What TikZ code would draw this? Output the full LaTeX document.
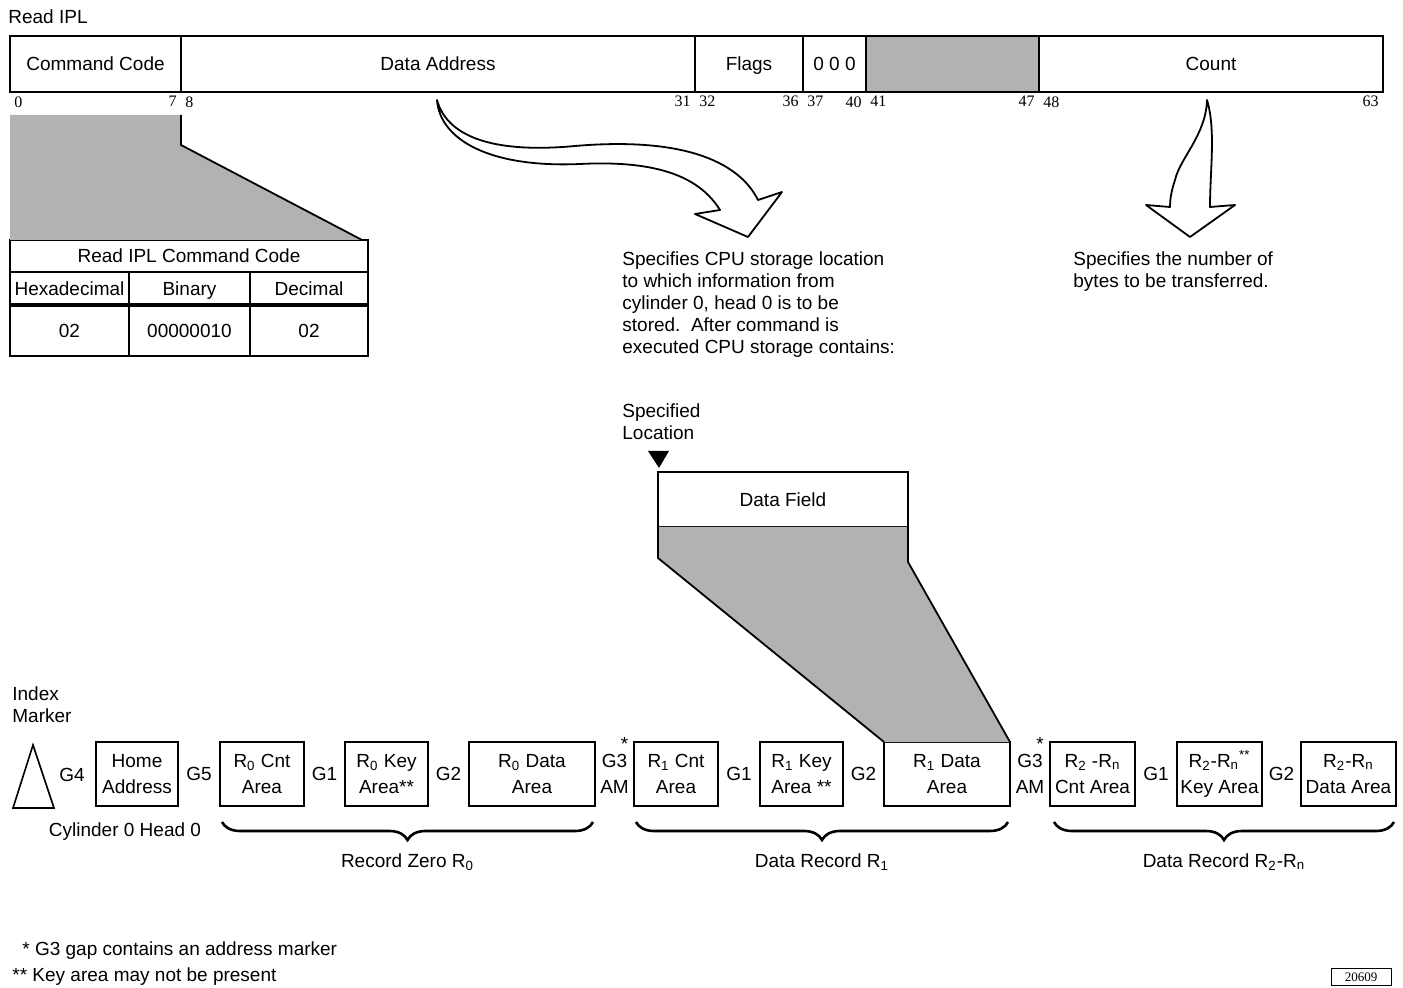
\documentclass[tikz,border=0pt]{standalone}
\usepackage{fontspec}
\setmainfont{Liberation Sans}
\newfontfamily\bitfont{Liberation Serif}
\usetikzlibrary{positioning, calc, decorations.pathreplacing}

\begin{document}
\begin{tikzpicture}[
  x=0.5pt, y=-0.5pt,
  font=\fontsize{9.5}{11}\selectfont,
  field/.style={draw, line width=1pt, minimum height=28pt, inner sep=0pt,
    outer sep=0pt, text height=1.6ex, text depth=0.3ex},
  shade/.style={fill=black!30},
  cell/.style={draw, line width=0.8pt, inner sep=0pt, outer sep=0pt,
    minimum height=16.5pt, text height=1.6ex, text depth=0.3ex},
  trk/.style={draw, line width=0.8pt, minimum height=32pt, inner sep=0pt,
    outer sep=0pt, align=center, anchor=north west,
    font=\fontsize{9.5}{13}\selectfont},
  gap/.style={inner sep=0pt, align=center, font=\fontsize{9.5}{13}\selectfont},
  bitno/.style={font=\bitfont\fontsize{8}{9}\selectfont, inner sep=2pt},
  txt/.style={align=left, inner sep=0pt, anchor=north west},
  hollow/.style={draw, line width=0.9pt, fill=white, line join=round},
  grp/.style={decorate, decoration={brace, mirror, amplitude=9pt},
    line width=1.3pt},
]
  \useasboundingbox (0,0) rectangle (1403,988);

  % -- CCW fields --
  \node[anchor=west, inner sep=0pt] (title) at (8,17) {Read IPL};
  \node[field, minimum width=85.5pt, anchor=north west] (cmd) at (10,36) {Command Code};
  \node[field, minimum width=257pt, right=0pt of cmd] (addr) {Data Address};
  \node[field, minimum width=54pt, right=0pt of addr] (flags) {Flags};
  \node[field, minimum width=31.5pt, right=0pt of flags] (zeros) {0 0 0};
  \node[field, shade, minimum width=86.5pt, right=0pt of zeros] (pad) {};
  \node[field, minimum width=172pt, right=0pt of pad] (count) {Count};

  % -- Bit numbers --
  \node[bitno, anchor=north west] (b0) at (cmd.south west) {0};
  \node[bitno, anchor=north east] (b7) at (cmd.south east) {7};
  \node[bitno, anchor=north west] (b8) at (addr.south west) {8};
  \node[bitno, anchor=north east] (b31) at (addr.south east) {31};
  \node[bitno, anchor=north west] (b32) at (flags.south west) {32};
  \node[bitno, anchor=north east] (b36) at (flags.south east) {36};
  \node[bitno, anchor=north west] (b37) at (zeros.south west) {37};
  \node[bitno, anchor=north east] (b40) at (zeros.south east) {40};
  \node[bitno, anchor=north west] (b41) at (pad.south west) {41};
  \node[bitno, anchor=north east] (b47) at (pad.south east) {47};
  \node[bitno, anchor=north west] (b48) at (count.south west) {48};
  \node[bitno, anchor=north east] (b63) at (count.south east) {63};

  % -- Command code table --
  \node[cell, minimum width=179pt, minimum height=16pt, anchor=north west]
    (tcap) at (10,240) {Read IPL Command Code};
  \node[cell, minimum width=59.5pt, anchor=north west] (thex) at (tcap.south west) {Hexadecimal};
  \node[cell, minimum width=60.5pt, right=0pt of thex] (tbin) {Binary};
  \node[cell, minimum width=59pt, right=0pt of tbin] (tdec) {Decimal};
  \node[cell, minimum width=59.5pt, minimum height=25.5pt, anchor=north west]
    (vhex) at (thex.south west) {02};
  \node[cell, minimum width=60.5pt, minimum height=25.5pt, right=0pt of vhex] (vbin) {00000010};
  \node[cell, minimum width=59pt, minimum height=25.5pt, right=0pt of vbin] (vdec) {02};
  \draw[line width=2pt] (vhex.north west) -- (vdec.north east);

  \fill[black!30] ($(cmd.south west)+(0,23)$) -- ($(cmd.south east)+(0,23)$)
    -- ($(cmd.south east)+(0,53)$) -- ([xshift=-3pt]tcap.north east)
    -- (tcap.north west) -- cycle;
  \draw[line width=0.9pt] ($(cmd.south east)+(0,23)$) -- ($(cmd.south east)+(0,53)$)
    -- ([xshift=-3pt]tcap.north east);

  % -- Hollow arrows --
  \draw[hollow] (437,100) .. controls (448,140) and (500,153) .. (575,146)
    .. controls (680,137) and (738,160) .. (758,200) -- (782,192) -- (748,237)
    -- (695,214) -- (720,210) .. controls (700,178) and (660,160) .. (580,164)
    .. controls (490,168) and (440,140) .. (437,100) -- cycle;
  \draw[hollow] (1207,100) .. controls (1206,135) and (1180,158) .. (1175,180)
    .. controls (1171,192) and (1170,200) .. (1170,207) -- (1146,205)
    -- (1190,237) -- (1235,205) -- (1210,207)
    .. controls (1210,170) and (1216,130) .. (1207,100) -- cycle;

  \node[txt] (cpunote) at (622,251) {Specifies CPU storage location\\to which information from\\cylinder 0, head 0 is to be\\stored.\ \ After command is\\executed CPU storage contains:};
  \node[txt] (cntnote) at (1073,251) {Specifies the number of\\bytes to be transferred.};

  % -- Data field --
  \node[txt] (specloc) at (622,403) {Specified\\Location};
  \node[draw, line width=0.9pt, minimum width=125pt, minimum height=27.5pt,
    anchor=north west, outer sep=0pt] (df) at (658,472) {Data Field};
  \fill ($(df.north west)+(1,-4)$) -- ++(-11,-17) -- ++(21,0) -- cycle;

  % -- Track layout --
  \node[txt] (idxlbl) at (12,686) {Index\\Marker};
  \draw[line width=0.8pt] (13,808) -- (33,745) -- (54,808) -- cycle;
  \node[trk, minimum width=41pt] (home) at (96,742) {Home\\Address};
  \node[trk, minimum width=42pt] (r0cnt) at (220,742) {R\textsubscript{0} Cnt\\Area};
  \node[trk, minimum width=41.5pt] (r0key) at (345,742) {R\textsubscript{0} Key\\Area**};
  \node[trk, minimum width=63pt] (r0data) at (469,742) {R\textsubscript{0} Data\\Area};
  \node[trk, minimum width=42pt] (r1cnt) at (634,742) {R\textsubscript{1} Cnt\\Area};
  \node[trk, minimum width=41.5pt] (r1key) at (760,742) {R\textsubscript{1} Key\\Area **};
  \node[trk, minimum width=63pt] (r1data) at (884,742) {R\textsubscript{1} Data\\Area};
  \node[trk, minimum width=42.5pt] (r2cnt) at (1050,742) {R\textsubscript{2} -R\textsubscript{n}\\Cnt Area};
  \node[trk, minimum width=42.5pt] (r2key) at (1177,742) {R\textsubscript{2}-R\textsubscript{n}\textsuperscript{**}\\Key Area};
  \node[trk, minimum width=47.5pt] (r2data) at (1301,742) {R\textsubscript{2}-R\textsubscript{n}\\Data Area};

  \node[gap] (g4) at (72,775) {G4};
  \node[gap] (g5) at ($(home.east)!.5!(r0cnt.west)$) {G5};
  \node[gap] (g1a) at ($(r0cnt.east)!.5!(r0key.west)$) {G1};
  \node[gap] (g2a) at ($(r0key.east)!.5!(r0data.west)$) {G2};
  \node[gap] (g3a) at ($(r0data.east)!.5!(r1cnt.west)$) {G3\\AM};
  \node[gap] (g1b) at ($(r1cnt.east)!.5!(r1key.west)$) {G1};
  \node[gap] (g2b) at ($(r1key.east)!.5!(r1data.west)$) {G2};
  \node[gap] (g3b) at ($(r1data.east)!.5!(r2cnt.west)$) {G3\\AM};
  \node[gap] (g1c) at ($(r2cnt.east)!.5!(r2key.west)$) {G1};
  \node[gap] (g2c) at ($(r2key.east)!.5!(r2data.west)$) {G2};
  \node[gap, anchor=south] (st1) at ($(g3a.north)+(10,-3)$) {*};
  \node[gap, anchor=south] (st2) at ($(g3b.north)+(10,-3)$) {*};

  % -- Record braces --
  \node (cyl) at (125,832) {Cylinder 0 Head 0};
  \draw[grp] ([xshift=1pt, yshift=-8pt]r0cnt.south west) -- node[below=15pt, inner sep=0pt]
    (rec0) {Record Zero R\textsubscript{0}} ([xshift=-1pt, yshift=-8pt]r0data.south east);
  \draw[grp] ([xshift=1pt, yshift=-8pt]r1cnt.south west) -- node[below=15pt, inner sep=0pt]
    (rec1) {Data Record R\textsubscript{1}} ([xshift=-1pt, yshift=-8pt]r1data.south east);
  \draw[grp] ([xshift=2pt, yshift=-8pt]r2cnt.south west) -- node[below=15pt, inner sep=0pt]
    (rec2) {Data Record R\textsubscript{2}-R\textsubscript{n}} ([xshift=-1pt, yshift=-8pt]r2data.south east);

  \fill[black!30] (df.south west) -- (df.south east) -- ($(df.south east)+(0,35)$)
    -- (r1data.north east) -- (r1data.north west) -- ($(df.south west)+(0,31)$) -- cycle;
  \draw[line width=0.9pt] (df.south west) -- ++(0,31) -- (r1data.north west);
  \draw[line width=0.9pt] (df.south east) -- ++(0,35) -- (r1data.north east);

  % -- Footnotes --
  \node[anchor=west, inner sep=0pt] (fn1) at (22,951) {* G3 gap contains an address marker};
  \node[anchor=west, inner sep=0pt] (fn2) at (12,977) {** Key area may not be present};
  \node[draw, line width=0.5pt, inner sep=1pt, minimum width=30pt, minimum height=8.5pt,
    font=\bitfont\fontsize{6.5}{7}\selectfont] (figno) at (1361,977) {20609};
\end{tikzpicture}
\end{document}
